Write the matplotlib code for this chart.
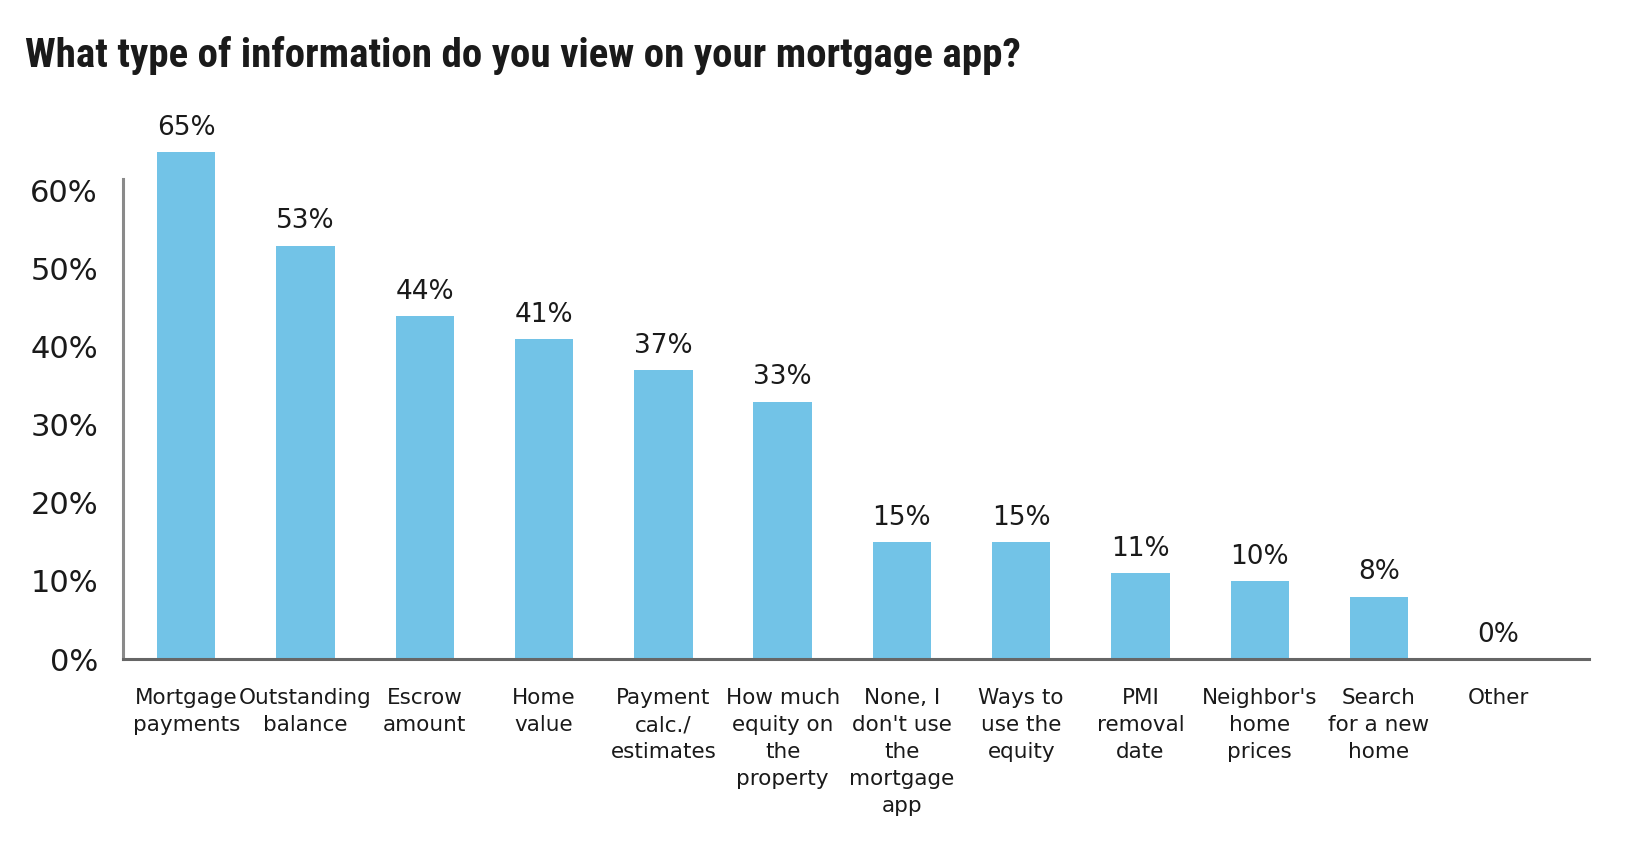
import matplotlib
matplotlib.use("Agg")
import matplotlib.pyplot as plt
from matplotlib import font_manager as fm

categories = [
    "Mortgage\npayments", "Outstanding\nbalance", "Escrow\namount", "Home\nvalue",
    "Payment\ncalc./\nestimates", "How much\nequity on\nthe\nproperty",
    "None, I\ndon't use\nthe\nmortgage\napp", "Ways to\nuse the\nequity",
    "PMI\nremoval\ndate", "Neighbor's\nhome\nprices", "Search\nfor a new\nhome", "Other",
]
values = [65, 53, 44, 41, 37, 33, 15, 15, 11, 10, 8, 0]
yticks = [0, 10, 20, 30, 40, 50, 60]
ytick_labels = ["0%", "10%", "20%", "30%", "40%", "50%", "60%"]
title = "What type of information do you view on your mortgage app?"

names = {f.name for f in fm.fontManager.ttflist}
narrow = "Liberation Sans"
for cand in ["Liberation Sans Narrow", "Roboto Condensed", "Open Sans Condensed",
             "Noto Sans Condensed", "DejaVu Sans Condensed"]:
    if cand in names:
        narrow = cand
        break
is_narrow = narrow != "Liberation Sans"
reg = "DejaVu Sans"

BAR = "#72C3E7"
TXT = "#1a1a1a"

fig = plt.figure(figsize=(16.32, 8.55), dpi=100)
ax_h = 61.5 * 7.8 / 855
ax = fig.add_axes([123 / 1632, 196 / 855, (1589 - 123) / 1632, ax_h])

x = list(range(len(categories)))
ax.bar(x, values, width=0.49, color=BAR, clip_on=False, zorder=2)
for xi, v in zip(x, values):
    ax.annotate(f"{v}%", (xi, v), xytext=(0, 8), textcoords="offset points",
                ha="center", va="bottom", fontsize=19, family=reg, color=TXT,
                annotation_clip=False)

ax.set_xlim(-0.53, 11.76)
ax.set_ylim(0, 61.5)
ax.set_yticks(yticks)
ax.set_yticklabels(ytick_labels, fontsize=22, family=reg, color=TXT)
ax.set_xticks(x)
ax.set_xticklabels(categories, fontsize=15.5, family=reg, color=TXT, linespacing=1.43)
ax.tick_params(axis="both", length=0)
ax.tick_params(axis="y", pad=18)
ax.tick_params(axis="x", pad=21)

for s in ["top", "right"]:
    ax.spines[s].set_visible(False)
ax.spines["left"].set_color("#8a8a8a")
ax.spines["left"].set_linewidth(2.2)
ax.spines["bottom"].set_color("#666666")
ax.spines["bottom"].set_linewidth(2.2)
ax.spines["bottom"].set_zorder(3)

fig.text(25 / 1632, 1 - 67 / 855, title, fontsize=29.5 if is_narrow else 24.5,
         fontweight="bold", family=narrow, color=TXT, ha="left", va="baseline")

fig.savefig("out.png", dpi=100, facecolor="white")
